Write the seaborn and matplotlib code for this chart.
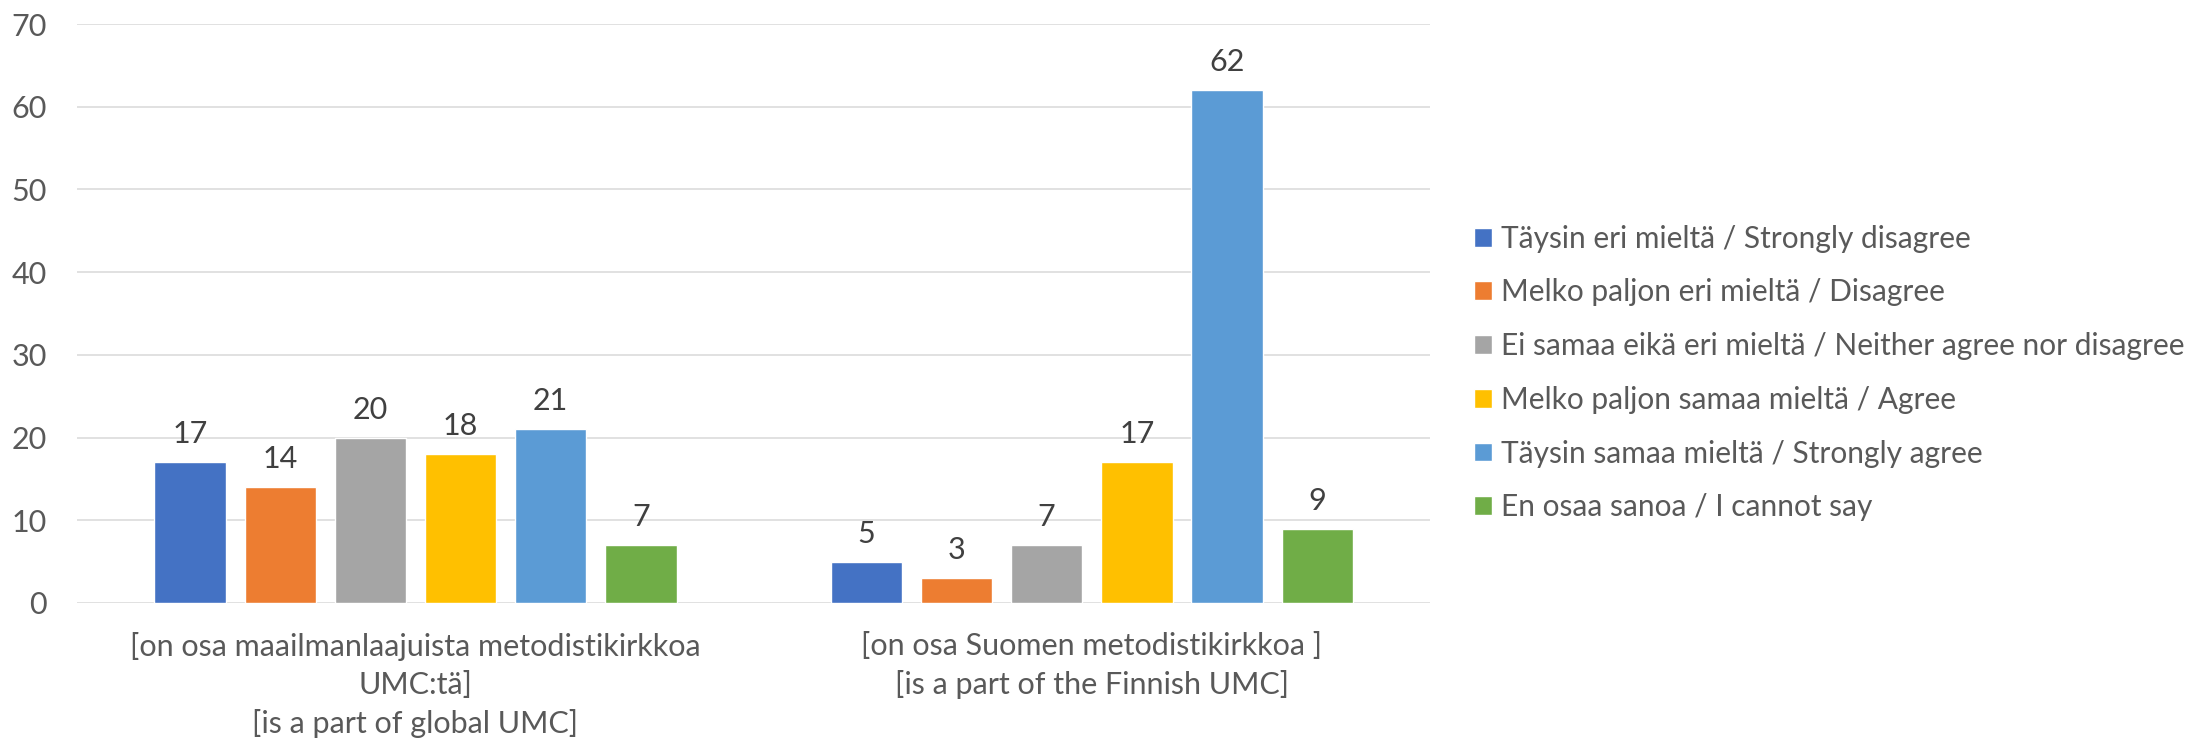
import numpy as np
import pandas as pd
import matplotlib
matplotlib.use("Agg")
import matplotlib.pyplot as plt
import seaborn as sns

categories = [
    "[on osa maailmanlaajuista metodistikirkkoa\nUMC:tä]\n[is a part of global UMC]",
    "[on osa Suomen metodistikirkkoa ]\n[is a part of the Finnish UMC]",
]
series = [
    "Täysin eri mieltä / Strongly disagree",
    "Melko paljon eri mieltä / Disagree",
    "Ei samaa eikä eri mieltä / Neither agree nor disagree",
    "Melko paljon samaa mieltä / Agree",
    "Täysin samaa mieltä / Strongly agree",
    "En osaa sanoa / I cannot say",
]
strongly_disagree = [17, 5]
disagree = [14, 3]
neither = [20, 7]
agree = [18, 17]
strongly_agree = [21, 62]
cannot_say = [7, 9]
colors = ["#4472C4", "#ED7D31", "#A5A5A5", "#FFC000", "#5B9BD5", "#70AD47"]
y_ticks = [0, 10, 20, 30, 40, 50, 60, 70]

all_values = [strongly_disagree, disagree, neither, agree, strongly_agree, cannot_say]
rows = []
for s, vals in zip(series, all_values):
    for c, v in zip(categories, vals):
        rows.append({"category": c, "series": s, "value": v})
df = pd.DataFrame(rows)

sns.set_theme(style="white")
plt.rcParams["font.family"] = ["Lato", "DejaVu Sans"]

fig = plt.figure(figsize=(22.03, 7.42), dpi=100)
ax = fig.add_axes([77.3 / 2203, 1 - 603 / 742, (1430 - 77.3) / 2203, (603 - 24) / 742])

sns.barplot(data=df, x="category", y="value", hue="series", order=categories,
            hue_order=series, palette=colors, width=0.8, gap=0.21,
            saturation=1, ax=ax, legend=True)

for cont in ax.containers:
    ax.bar_label(cont, padding=10, color="#404040", fontsize=22)

ax.set_ylim(0, 70)
ax.set_yticks(y_ticks)
ax.set_xlim(-0.5, 1.5)
ax.set_xlabel("")
ax.set_ylabel("")
ax.grid(axis="y", color="#D9D9D9", linewidth=1.1)
ax.grid(axis="x", visible=False)
ax.set_axisbelow(True)
for sp in ax.spines.values():
    sp.set_visible(False)
ax.tick_params(axis="y", length=0, pad=22, labelsize=22, labelcolor="#595959")
ax.tick_params(axis="x", length=0, pad=21, labelsize=22, labelcolor="#595959")
for lbl in ax.get_xticklabels():
    lbl.set_linespacing(1.42)
    lbl.set_horizontalalignment("center")

handles, labels = ax.get_legend_handles_labels()
ax.legend(handles, labels, loc="center left",
          bbox_to_anchor=(1474 / 2203, 1 - 373 / 742), bbox_transform=fig.transFigure,
          frameon=False, fontsize=21.5, labelcolor="#595959",
          handlelength=0.6, handleheight=0.6, handletextpad=0.3,
          labelspacing=0.86, borderpad=0, borderaxespad=0)

fig.savefig("out.png", dpi=100)
